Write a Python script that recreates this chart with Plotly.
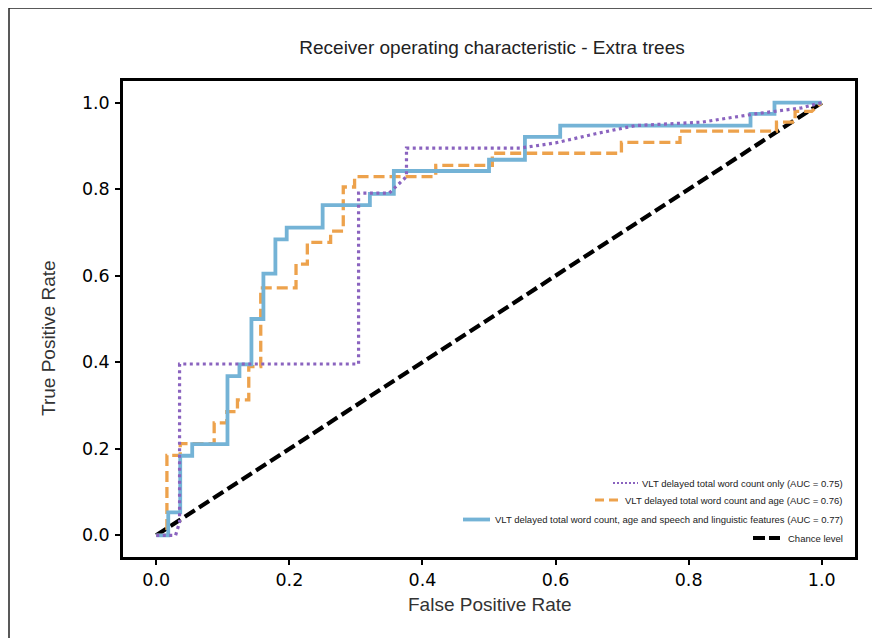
import plotly.graph_objects as go

# ---------------- data ----------------
fpr_only = [0.0, 0.029, 0.035, 0.035, 0.304, 0.304, 0.35, 0.376, 0.376, 0.547,
            0.60, 0.66, 0.72, 0.82, 0.90, 0.97, 1.0]
tpr_only = [0.0, 0.0, 0.03, 0.396, 0.396, 0.791, 0.791, 0.829, 0.895, 0.895,
            0.907, 0.928, 0.947, 0.955, 0.974, 0.988, 1.0]

fpr_age = [0.0, 0.016, 0.016, 0.036, 0.036, 0.087, 0.087, 0.106, 0.106, 0.122, 0.122,
           0.139, 0.139, 0.157, 0.157, 0.21, 0.21, 0.227, 0.227, 0.262, 0.262,
           0.281, 0.281, 0.298, 0.298, 0.42, 0.42, 0.505, 0.505, 0.699, 0.699,
           0.787, 0.787, 0.932, 0.932, 0.96, 0.96, 0.985, 1.0]
tpr_age = [0.0, 0.0, 0.185, 0.185, 0.212, 0.212, 0.26, 0.26, 0.286, 0.286, 0.313,
           0.313, 0.39, 0.39, 0.572, 0.572, 0.627, 0.627, 0.677, 0.677, 0.703,
           0.703, 0.805, 0.805, 0.829, 0.829, 0.855, 0.855, 0.883, 0.883, 0.908,
           0.908, 0.934, 0.934, 0.955, 0.955, 0.98, 0.98, 1.0]

fpr_all = [0.0, 0.018, 0.018, 0.036, 0.036, 0.054, 0.054, 0.107, 0.107, 0.125, 0.125,
           0.143, 0.143, 0.161, 0.161, 0.179, 0.179, 0.196, 0.196, 0.25, 0.25,
           0.321, 0.321, 0.357, 0.357, 0.5, 0.5, 0.554, 0.554, 0.607, 0.607,
           0.893, 0.893, 0.929, 0.929, 1.0]
tpr_all = [0.0, 0.0, 0.053, 0.053, 0.184, 0.184, 0.211, 0.211, 0.368, 0.368, 0.395,
           0.395, 0.5, 0.5, 0.605, 0.605, 0.684, 0.684, 0.711, 0.711, 0.763,
           0.763, 0.789, 0.789, 0.842, 0.842, 0.868, 0.868, 0.921, 0.921, 0.947,
           0.947, 0.974, 0.974, 1.0, 1.0]

chance_x = [0.0, 1.0]
chance_y = [0.0, 1.0]

series_names = [
    "VLT delayed total word count only (AUC = 0.75)",
    "VLT delayed total word count and age (AUC = 0.76)",
    "VLT delayed total word count, age and speech and linguistic features (AUC = 0.77)",
    "Chance level",
]
tick_vals = [0.0, 0.2, 0.4, 0.6, 0.8, 1.0]
tick_text = ["0.0", "0.2", "0.4", "0.6", "0.8", "1.0"]

PURPLE = "#8a63bf"
ORANGE = "#eda24c"
BLUE = "#74b3d6"
BLACK = "#000000"

# ---------------- layout geometry (pixels, reference image coords) ----------------
W, H = 880, 638
OFF = 8                          # page body margin offset
L, R, T, B = 123, 855, 81, 557  # plot frame in reference pixels


def px(xp):
    return (xp - L) / (R - L)


def py(yp):
    return (B - yp) / (B - T)


fig = go.Figure()
fig.add_trace(go.Scatter(x=chance_x, y=chance_y, mode="lines",
                         line=dict(color=BLACK, width=4.2, dash="12px,5px"),
                         name=series_names[3], showlegend=False))
fig.add_trace(go.Scatter(x=fpr_age, y=tpr_age, mode="lines",
                         line=dict(color=ORANGE, width=3.3, dash="11px,5px"),
                         name=series_names[1], showlegend=False))
fig.add_trace(go.Scatter(x=fpr_all, y=tpr_all, mode="lines",
                         line=dict(color=BLUE, width=3.8),
                         name=series_names[2], showlegend=False))
fig.add_trace(go.Scatter(x=fpr_only, y=tpr_only, mode="lines",
                         line=dict(color=PURPLE, width=3.2, dash="3px,3.5px"),
                         name=series_names[0], showlegend=False))

axis_common = dict(
    showgrid=False, zeroline=False, showline=True, mirror=True,
    linecolor="black", linewidth=2.5,
    ticks="outside", ticklen=5, tickwidth=1.8, tickcolor="black",
    tickvals=tick_vals, ticktext=tick_text,
    tickfont=dict(family="DejaVu Sans", size=17.5, color="#000000"),
)
fig.update_xaxes(range=[-0.05, 1.05], **axis_common)
fig.update_yaxes(range=[-0.05, 1.05], ticklabelstandoff=2, **axis_common)

shapes = []
annotations = []

# outer border of the figure image
shapes.append(dict(type="line", xref="paper", yref="paper",
                   x0=px(9), x1=px(900), y0=py(8), y1=py(8),
                   line=dict(color="#222222", width=1.5)))
shapes.append(dict(type="line", xref="paper", yref="paper",
                   x0=px(9), x1=px(9), y0=py(8), y1=py(660),
                   line=dict(color="#222222", width=1.5)))

# legend (right-aligned entries, no frame)
leg_rows = [483, 500, 519.5, 538]
leg_sym = [(613, 638), (595, 620), (463, 490), (753, 780)]
leg_styles = [
    dict(color=PURPLE, width=2, dash="2px,2px"),
    dict(color=ORANGE, width=3.2, dash="9px,5px"),
    dict(color=BLUE, width=3.8),
    dict(color=BLACK, width=4, dash="12px,4px"),
]
for i, name in enumerate(series_names):
    y = py(leg_rows[i])
    shapes.append(dict(type="line", xref="paper", yref="paper",
                       x0=px(leg_sym[i][0]), x1=px(leg_sym[i][1]), y0=y, y1=y,
                       line=leg_styles[i]))
    annotations.append(dict(text=name, xref="paper", yref="paper",
                            x=px(845), y=y, xanchor="right", yanchor="middle",
                            align="right", showarrow=False,
                            font=dict(family="Liberation Sans", size=9.5,
                                      color="#222222")))

# axis titles
annotations.append(dict(text="False Positive Rate", xref="paper", yref="paper",
                        x=px(490), y=py(604), xanchor="center", yanchor="middle",
                        showarrow=False,
                        font=dict(family="Liberation Sans", size=19, color="#333333")))
annotations.append(dict(text="True Positive Rate", xref="paper", yref="paper",
                        x=px(48), y=py(338), xanchor="center", yanchor="middle",
                        textangle=-90, showarrow=False,
                        font=dict(family="Liberation Sans", size=19, color="#333333")))

fig.update_layout(
    width=W, height=H,
    margin=dict(l=L - OFF, r=W - (R - OFF), t=T - OFF, b=H - (B - OFF)),
    paper_bgcolor="white", plot_bgcolor="white",
    title=dict(text="Receiver operating characteristic - Extra trees",
               x=px(492), xref="paper", xanchor="center",
               y=1 - (47 - OFF) / H, yanchor="middle",
               font=dict(family="Liberation Sans", size=19, color="#222222")),
    shapes=shapes, annotations=annotations,
    showlegend=False,
)

fig.write_html("out.html")
